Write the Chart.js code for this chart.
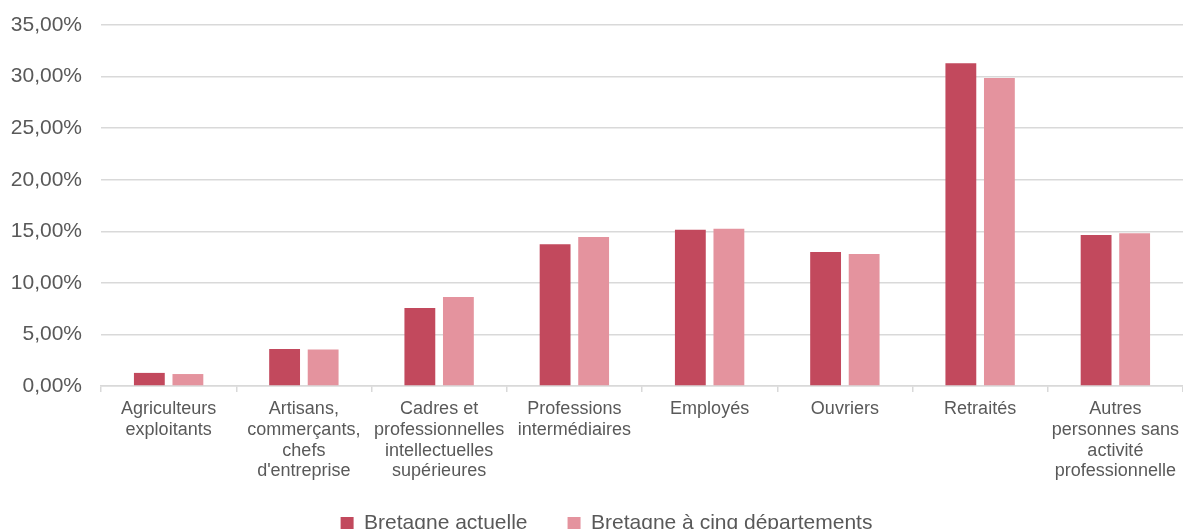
<!DOCTYPE html>
<html lang="fr">
<head>
    <meta charset="UTF-8">
    <title>Catégories socioprofessionnelles</title>
    <script src="https://cdn.jsdelivr.net/npm/chart.js"></script>
    <style>
        body { margin: 0; background: #fff; }
        canvas { display: block; }
    </style>
</head>
<body>
    <canvas id="csp" width="1183" height="529"></canvas>
    <script>
        const categories = [
            ['Agriculteurs', 'exploitants'],
            ['Artisans,', 'commerçants,', 'chefs', "d'entreprise"],
            ['Cadres et', 'professionnelles', 'intellectuelles', 'supérieures'],
            ['Professions', 'intermédiaires'],
            ['Employés'],
            ['Ouvriers'],
            ['Retraités'],
            ['Autres', 'personnes sans', 'activité', 'professionnelle']
        ];
        const bretagneActuelle = [1.27, 3.58, 7.56, 13.75, 15.15, 13.0, 31.3, 14.65];
        const bretagneCinq = [1.16, 3.55, 8.62, 14.45, 15.25, 12.8, 29.85, 14.82];
        const yTicks = [0, 5, 10, 15, 20, 25, 30, 35];

        const grey = '#595959';
        const gridGrey = '#d9d9d9';
        Chart.defaults.font.family = "'Liberation Sans', Arial, sans-serif";
        Chart.defaults.color = grey;

        // legend keeps wide gaps between items but sits low; plot area pinned to the reference frame
        const layoutFix = {
            id: 'layoutFix',
            beforeLayout(chart) {
                const lg = chart.legend;
                if (!lg || lg._patched) return;
                const fit = lg.fit;
                lg.fit = function () {
                    fit.call(this);
                    this.height = 49;
                };
                lg._patched = true;
            },
            afterLayout(chart) {
                const lg = chart.legend;
                lg.top = 473;
                lg.bottom = 529;
                lg.left += 15;
                lg.right += 15;

                const ca = chart.chartArea;
                const { x, y } = chart.scales;
                ca.top = 25;
                ca.right = 1183;
                ca.width = ca.right - ca.left;
                ca.height = ca.bottom - ca.top;
                y.top = 25;
                y.height = y.bottom - y.top;
                y.configure();
                x.right = 1183;
                x.width = x.right - x.left;
                x.configure();
            }
        };

        new Chart(document.getElementById('csp'), {
            type: 'bar',
            data: {
                labels: categories,
                datasets: [
                    {
                        label: 'Bretagne actuelle',
                        data: bretagneActuelle,
                        backgroundColor: '#c2495d',
                        categoryPercentage: 0.57,
                        barPercentage: 0.8
                    },
                    {
                        label: 'Bretagne à cinq départements',
                        data: bretagneCinq,
                        backgroundColor: '#e4939e',
                        categoryPercentage: 0.57,
                        barPercentage: 0.8
                    }
                ]
            },
            options: {
                responsive: false,
                animation: false,
                layout: { padding: 0 },
                plugins: {
                    tooltip: { enabled: false },
                    legend: {
                        position: 'bottom',
                        labels: {
                            boxWidth: 13,
                            boxHeight: 13,
                            padding: 40,
                            font: { size: 21 },
                            color: grey
                        }
                    }
                },
                scales: {
                    x: {
                        afterFit: s => { s.height = 94; },
                        grid: {
                            drawOnChartArea: false,
                            drawTicks: true,
                            tickLength: 6,
                            color: gridGrey,
                            lineWidth: 1.5
                        },
                        border: { color: gridGrey, width: 1.5 },
                        ticks: {
                            font: { size: 18, lineHeight: 1.15 },
                            color: grey,
                            maxRotation: 0,
                            autoSkip: false,
                            padding: 7
                        }
                    },
                    y: {
                        min: 0,
                        max: 35,
                        afterBuildTicks: s => { s.ticks = yTicks.map(v => ({ value: v })); },
                        afterFit: s => { s.width = 101; },
                        grid: { color: gridGrey, lineWidth: 1.5, drawTicks: false },
                        border: { display: false },
                        ticks: {
                            font: { size: 21 },
                            color: grey,
                            padding: 19,
                            callback: v => v.toFixed(2).replace('.', ',') + '%'
                        }
                    }
                }
            },
            plugins: [layoutFix]
        });
    </script>
</body>
</html>
